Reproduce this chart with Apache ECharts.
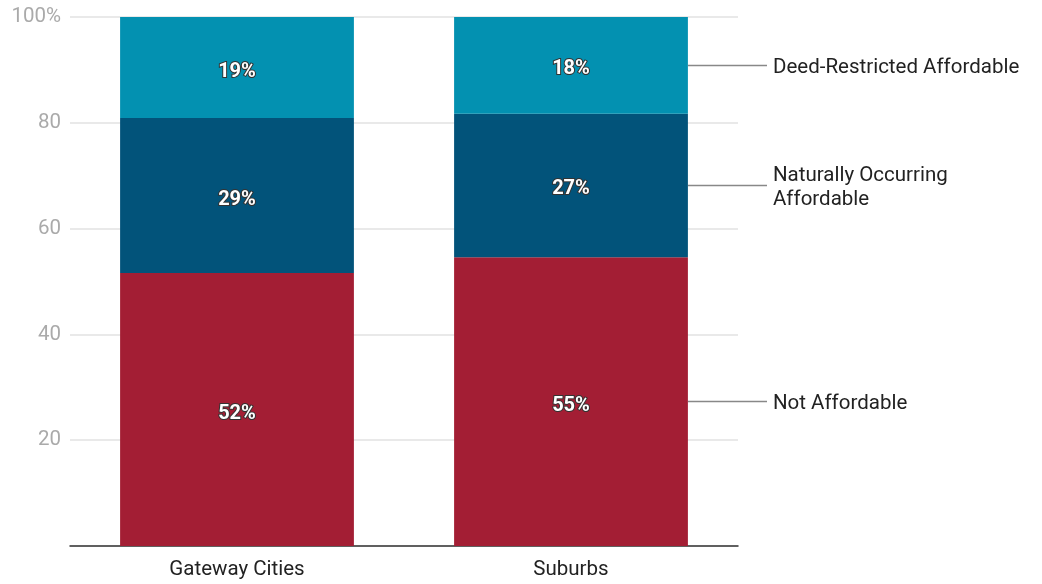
<!DOCTYPE html>
<html>
<head>
    <meta charset="utf-8">
    <title>Housing affordability</title>
    <script src="https://cdn.jsdelivr.net/npm/echarts@6/dist/echarts.min.js"></script>
    <style>
        html, body { margin: 0; padding: 0; background: #fff; }
        #chart1 { width: 1042px; height: 584px; }
    </style>
</head>
<body>
<div id="chart1"></div>
<script>
    // 数据
    var categories = ['Gateway Cities', 'Suburbs'];
    var seriesNames = ['Not Affordable', 'Naturally Occurring\nAffordable', 'Deed-Restricted Affordable'];
    var notAffordable = [51.6, 54.6];
    var naturallyOccurring = [29.3, 27.1];
    var deedRestricted = [19.1, 18.3];
    var shownLabels = [['52%', '55%'], ['29%', '27%'], ['19%', '18%']];
    var colors = ['#a31e34', '#02537a', '#0391b1'];
    var yTicks = [0, 20, 40, 60, 80, 100];

    var values = [notAffordable, naturallyOccurring, deedRestricted];
    var font = 'Roboto, "Noto Sans", sans-serif';

    var series = values.map(function (arr, i) {
        return {
            name: seriesNames[i],
            type: 'bar',
            stack: 'total',
            barWidth: '70%',
            data: arr,
            itemStyle: { color: colors[i] },
            label: {
                show: true,
                position: 'inside',
                offset: [0, 4],
                formatter: function (p) { return shownLabels[i][p.dataIndex]; },
                color: '#fff',
                fontWeight: 'bold',
                fontSize: 20,
                fontFamily: font,
                textBorderColor: '#333',
                textBorderWidth: 2
            },
            emphasis: { disabled: true }
        };
    });

    var myChart1 = echarts.init(document.getElementById('chart1'));
    myChart1.setOption({
        animation: false,
        grid: { left: 70, right: 304, top: 17, bottom: 38 },
        xAxis: {
            type: 'category',
            data: categories,
            axisTick: { show: false },
            axisLine: { lineStyle: { color: '#333', width: 1.5 } },
            axisLabel: { color: '#222', fontSize: 20.5, fontFamily: font, margin: 13 }
        },
        yAxis: {
            type: 'value',
            min: yTicks[0],
            max: yTicks[yTicks.length - 1],
            interval: 20,
            axisLine: { show: false },
            axisTick: { show: false },
            splitLine: { lineStyle: { color: '#e2e2e2', width: 1.5 } },
            axisLabel: {
                color: '#aaa',
                fontSize: 20.5,
                fontFamily: font,
                margin: 9,
                formatter: function (v) {
                    if (v === 0) return '';
                    return v === 100 ? '100%' : String(v);
                }
            }
        },
        series: series
    });

    // 右侧标注：按 Suburbs 柱子的各段中点
    var last = categories.length - 1;
    var graphics = [];
    var base = 0;
    values.forEach(function (arr, i) {
        var mid = base + arr[last] / 2;
        base += arr[last];
        var pt = myChart1.convertToPixel({ gridIndex: 0 }, [last, mid]);
        var right = myChart1.convertToPixel({ gridIndex: 0 }, [last, 0])[0] + 117;
        graphics.push({
            type: 'line',
            shape: { x1: right, y1: pt[1], x2: right + 79, y2: pt[1] },
            style: { stroke: '#888', lineWidth: 1.5 }
        });
        graphics.push({
            type: 'text',
            x: right + 85,
            y: pt[1] + 2,
            style: {
                text: seriesNames[i],
                fill: '#222',
                font: '20.5px ' + font,
                verticalAlign: 'middle',
                lineHeight: 24
            }
        });
    });
    myChart1.setOption({ graphic: graphics });
</script>
</body>
</html>
